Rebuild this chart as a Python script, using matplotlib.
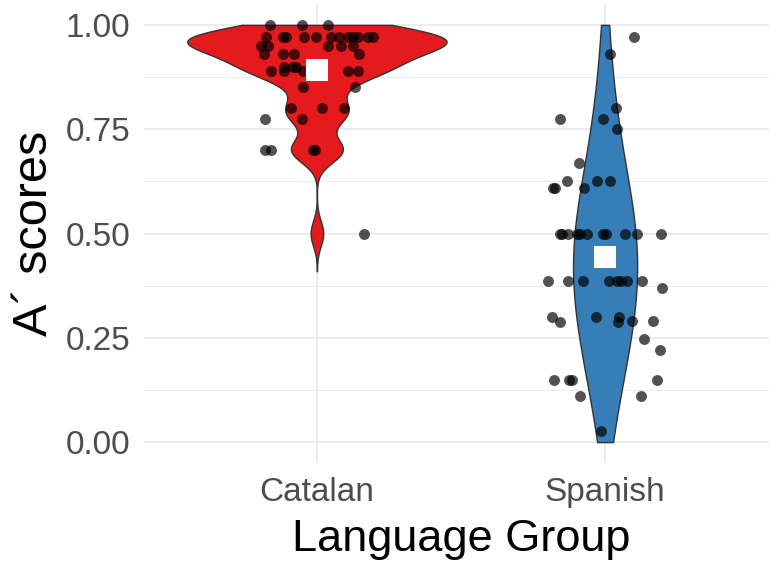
import numpy as np
import matplotlib
matplotlib.use('Agg')
import matplotlib.pyplot as plt

plt.rcParams['font.family'] = ['Liberation Sans', 'DejaVu Sans']

groups = ['Catalan', 'Spanish']
colors = ['#E41A1C', '#377EB8']
bw_adjust = [0.8, 1.7]

# A' scores, with the horizontal jitter of each dot
catalan_scores = [1.00, 1.00, 1.00,
                  0.97, 0.97, 0.97, 0.97, 0.97, 0.97, 0.97, 0.97, 0.97, 0.97, 0.97, 0.97,
                  0.95, 0.95, 0.95, 0.95, 0.95,
                  0.93, 0.93, 0.93, 0.93,
                  0.90, 0.90, 0.90,
                  0.89, 0.89, 0.89, 0.89, 0.89,
                  0.85, 0.85,
                  0.80, 0.80, 0.80,
                  0.775, 0.775,
                  0.70, 0.70, 0.70, 0.70,
                  0.50]
catalan_jitter = [-0.163, -0.052, 0.038,
                  -0.176, -0.118, -0.107, -0.045, -0.003, 0.048, 0.076, 0.107, 0.125, 0.142, 0.176, 0.194,
                  -0.194, -0.170, 0.038, 0.083, 0.125,
                  -0.183, -0.118, -0.080, 0.145,
                  -0.114, -0.083, -0.073,
                  -0.159, -0.114, -0.048, 0.107, 0.142,
                  -0.048, 0.131,
                  -0.090, 0.017, 0.093,
                  -0.180, -0.052,
                  -0.180, -0.159, -0.014, -0.007,
                  0.163]

spanish_scores = [0.97, 0.93, 0.80, 0.775, 0.775, 0.75, 0.67,
                  0.61, 0.61, 0.625, 0.61, 0.625, 0.625,
                  0.50, 0.50, 0.50, 0.50, 0.50, 0.50, 0.50, 0.50, 0.50, 0.50, 0.50,
                  0.385, 0.385, 0.385, 0.385, 0.385, 0.385, 0.385, 0.385,
                  0.37,
                  0.30, 0.287, 0.30, 0.30, 0.287, 0.29, 0.29,
                  0.246, 0.222,
                  0.15, 0.15, 0.15, 0.15,
                  0.11, 0.11,
                  0.026]
spanish_jitter = [0.100, 0.017, 0.038, -0.156, -0.007, 0.042, -0.090,
                  -0.180, -0.173, -0.131, -0.073, -0.028, 0.017,
                  -0.156, -0.149, -0.128, -0.097, -0.087, -0.062, -0.007, 0.003, 0.069, 0.111, 0.194,
                  -0.197, -0.128, -0.076, 0.014, 0.042, 0.055, 0.076, 0.128,
                  0.197,
                  -0.183, -0.156, -0.031, 0.048, 0.045, 0.093, 0.166,
                  0.135, 0.190,
                  -0.176, -0.125, -0.114, 0.180,
                  -0.087, 0.125,
                  -0.014]

scores = [catalan_scores, spanish_scores]
jitters = [catalan_jitter, spanish_jitter]


def kde_stats(x, adjust):
    x = np.asarray(x)
    n = len(x)
    iqr = np.subtract(*np.percentile(x, [75, 25]))
    bw = adjust * 0.9 * min(x.std(ddof=1), iqr / 1.34) * n ** -0.2
    lo = max(0.0, x.min() - 3 * bw)
    hi = min(1.0, x.max() + 3 * bw)
    coords = np.linspace(lo, hi, 512)
    vals = np.exp(-0.5 * ((coords[:, None] - x[None, :]) / bw) ** 2).sum(1)
    vals = vals / (n * bw * np.sqrt(2 * np.pi))
    return dict(coords=coords, vals=vals, mean=x.mean(), median=np.median(x),
                min=x.min(), max=x.max(), quantiles=[])


stats = [kde_stats(s, a) for s, a in zip(scores, bw_adjust)]
peak = max(st['vals'].max() for st in stats)
widths = [0.9 * st['vals'].max() / peak for st in stats]

fig = plt.figure(figsize=(7.69, 5.65), dpi=100)
ax = fig.add_axes([144 / 769, 102 / 565, 634 / 769, 459 / 565])

pos = np.arange(1, len(groups) + 1)
parts = ax.violin(stats, positions=pos, widths=widths,
                  showmeans=False, showextrema=False, showmedians=False)
for body, c in zip(parts['bodies'], colors):
    body.set_facecolor(c)
    body.set_edgecolor('#333333')
    body.set_linewidth(1.0)
    body.set_alpha(1)
    body.set_zorder(2)

for i in range(len(groups)):
    ax.scatter(pos[i] + np.array(jitters[i]), scores[i], s=62, color='black',
               alpha=0.68, linewidths=0, zorder=3)
    ax.scatter(pos[i], np.mean(scores[i]), marker='s', s=230, color='white',
               linewidths=0, zorder=4)

ax.set_xlim(0.4, 2.6)
ax.set_ylim(-0.05, 1.05)
ax.set_xticks(pos)
ax.set_xticklabels(groups)
ax.set_yticks([0, 0.25, 0.5, 0.75, 1.0])
ax.set_yticklabels(['0.00', '0.25', '0.50', '0.75', '1.00'])
ax.set_yticks([0.125, 0.375, 0.625, 0.875], minor=True)
ax.grid(True, which='major', color='#EBEBEB', linewidth=1.3, zorder=0)
ax.grid(True, which='minor', axis='y', color='#EBEBEB', linewidth=0.7, zorder=0)
ax.set_axisbelow(True)
for sp in ax.spines.values():
    sp.set_visible(False)
ax.tick_params(which='both', length=0, labelsize=24, labelcolor='#4D4D4D')
ax.tick_params(axis='y', pad=10)
ax.tick_params(axis='x', pad=10)
ax.set_xlabel('Language Group', fontsize=32.5, labelpad=8)
ax.set_ylabel('A´ scores', fontsize=35, labelpad=6)

fig.savefig('out.png', dpi=100)
